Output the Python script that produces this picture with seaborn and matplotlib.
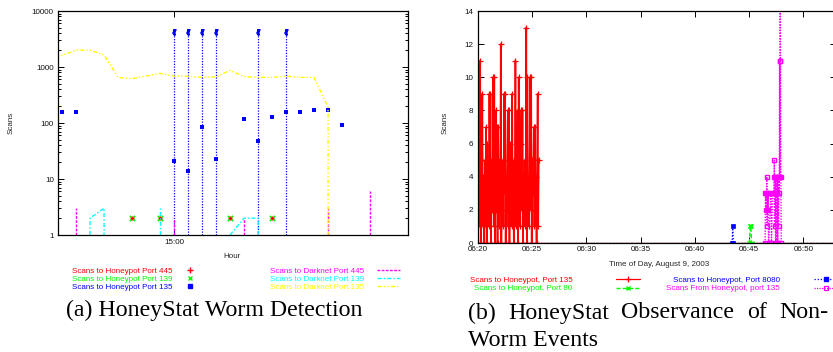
import matplotlib
matplotlib.use('Agg')
import matplotlib.pyplot as plt
from matplotlib.lines import Line2D
from matplotlib.ticker import LogLocator, NullLocator
import numpy as np
import seaborn as sns

# ---------------- panel (a): HoneyStat worm detection ----------------
# x is the sample slot relative to the 15:00 tick
hp135_slots = [-8, -7, 0, 1, 2, 3, 5, 6, 7, 8, 9, 10, 11, 12]
hp135_scans = [157, 157, 21, 14, 86, 23, 116, 48, 130, 157, 157, 173, 168, 91]

hp_low_slots = [-3, -1, 4, 7]          # port 445 and port 139 coincide here
hp445_scans = [2, 2, 2, 2]
hp139_scans = [2, 2, 2, 2]

dn135_slots = [-8.5, -7, -6, -5, -4, -3, -2, -1, 0, 1, 2, 3, 4, 5, 6, 7, 8, 9, 10, 11, 11]
dn135_scans = [1450, 2000, 2000, 1640, 650, 620, 690, 770, 686, 686, 653, 665, 870,
               670, 653, 653, 686, 653, 653, 190, 1]

dn445_slots = [-7, 0, 5, 11, 14]
dn445_scans = [3, 2, 2, 3, 6]

dn139_slots = [-6, -6, -5, -5, -1, -1, 4, 5, 6, 6]
dn139_scans = [1, 2, 3, 1, 1, 3, 1, 2, 2, 1]
dn139_piece = [0, 0, 0, 0, 1, 1, 2, 2, 2, 2]

alert_slots = [0, 1, 2, 3, 6, 8]
alert_level = 4300

# ---------------- panel (b): non-worm events ----------------
# seconds after 06:20:00
p135_t = np.arange(6, 337, 3)
p135_scans = [9, 1, 11, 0, 3, 5, 9, 1, 4, 0, 2, 5, 1, 7, 0, 6, 2, 4, 1, 9,
              3, 9, 0, 5, 2, 4, 10, 1, 10, 0, 3, 8, 2, 7, 0, 7, 4, 1, 5, 2,
              12, 0, 4, 2, 5, 1, 9, 3, 9, 0, 4, 2, 5, 8, 1, 8, 0, 6, 3, 5,
              1, 9, 2, 4, 0, 5, 3, 11, 1, 4, 2, 8, 0, 10, 3, 5, 1, 6, 8, 2,
              8, 0, 4, 2, 5, 1, 4, 13, 0, 10, 3, 4, 1, 4, 10, 2, 10, 0, 5, 3,
              4, 7, 1, 7, 2, 4, 0, 5, 9, 1, 5]

p8080_t = [1405, 1409, 1413]
p8080_scans = [0, 1, 0]

p80_t = [1501, 1505, 1507, 1509, 1513]
p80_scans = [0, 1, 1, 1, 0]

out135_t = [1588, 1590, 1592, 1594, 1596, 1597, 1599, 1601, 1603, 1605, 1607, 1621, 1623,
            1630, 1636, 1638, 1639, 1640, 1642, 1644, 1646, 1648, 1650, 1652, 1654, 1656,
            1658, 1660, 1662, 1664, 1666, 1668, 1670, 1671, 1673, 1675, 1677]
out135_scans = [0, 3, 2, 3, 2, 4, 1, 3, 2, 3, 0, 3, 0,
                3, 3, 4, 5, 1, 4, 3, 0, 4, 3, 0, 4, 3,
                0, 4, 1, 4, 3, 11, 4, 16, 11, 4, 0]

day_span = [0, 1980]
time_ticks = [0, 300, 600, 900, 1200, 1500, 1800]
time_labels = ['06:20', '06:25', '06:30', '06:35', '06:40', '06:45', '06:50']

RED, GREEN, BLUE = '#ff0000', '#00ff00', '#0000ff'
MAG, CYAN, YEL = '#ff00ff', '#00ffff', '#ffff00'
FS = 5.8

sns.set_theme(style='white')
plt.rcParams['font.family'] = ['Liberation Sans', 'DejaVu Sans']
plt.rcParams['axes.edgecolor'] = 'black'
plt.rcParams['axes.linewidth'] = 0.9

W, H = 833, 352
fig = plt.figure(figsize=(W / 100, H / 100), dpi=100)


def px_axes(left, top, right, bottom):
    return fig.add_axes([left / W, 1 - bottom / H, (right - left) / W, (bottom - top) / H])


def style_ticks(ax):
    ax.tick_params(which='both', direction='in', top=True, right=True, bottom=True, left=True,
                   labelsize=FS, labelcolor='#111111', color='black', width=0.7)
    ax.tick_params(which='major', length=4, pad=3)
    ax.tick_params(which='minor', length=2)


# ---------------- panel (a) ----------------
ax1 = px_axes(58, 11, 408, 235)
ax1.set_yscale('log')

ax1.vlines(alert_slots, 1, alert_level, colors=BLUE, linestyles=(0, (1, 1.2)), lw=0.9)
ax1.plot(alert_slots, [alert_level] * len(alert_slots), ls='none', marker=r'$\xi$',
         ms=4, color=BLUE)

ax1.vlines(dn445_slots, 1, dn445_scans, colors=MAG, linestyles=(0, (2, 1)), lw=1.0)
sns.lineplot(x=dn139_slots, y=dn139_scans, units=dn139_piece, estimator=None, sort=False,
             color=CYAN, lw=1.0, dashes=False, linestyle=(0, (3, 1.5, 1, 1.5)), ax=ax1)
sns.lineplot(x=dn135_slots, y=dn135_scans, estimator=None, sort=False,
             color=YEL, lw=1.0, linestyle=(0, (3, 1.5, 1, 1.5, 1, 1.5)), ax=ax1)

sns.scatterplot(x=hp_low_slots, y=hp139_scans, marker='x', color=GREEN, s=14,
                linewidth=1.3, ax=ax1)
sns.scatterplot(x=hp_low_slots, y=hp445_scans, marker='+', color=RED, s=10,
                linewidth=1.0, ax=ax1)
sns.scatterplot(x=hp135_slots, y=hp135_scans, marker='s', color=BLUE, s=11,
                linewidth=0, ax=ax1)

ax1.set_xlim(-8.29, 16.71)
ax1.set_ylim(1, 10000)
ax1.set_xticks([0])
ax1.set_xticklabels(['15:00'])
ax1.xaxis.set_minor_locator(NullLocator())
ax1.set_yticks([1, 10, 100, 1000, 10000])
ax1.set_yticklabels(['1', '10', '100', '1000', '10000'])
ax1.yaxis.set_minor_locator(LogLocator(base=10, subs=np.arange(2, 10)))
style_ticks(ax1)
ax1.set_xlabel('Hour', fontsize=FS)
ax1.set_ylabel('Scans', fontsize=FS)
ax1.xaxis.set_label_coords(0.497, -0.08)
ax1.yaxis.set_label_coords(-0.123, 0.5)

leg_a1 = [Line2D([], [], ls='none', marker='+', color=RED, ms=4, mew=1.0),
          Line2D([], [], ls='none', marker='x', color=GREEN, ms=3.5, mew=1.0),
          Line2D([], [], ls='none', marker='s', color=BLUE, ms=2.8)]
lab_a1 = ['Scans to Honeypot Port 445', 'Scans to Honeypot Port 139',
          'Scans to Honeypot Port 135']
leg_a2 = [Line2D([], [], color=MAG, lw=1.0, ls=(0, (2, 1))),
          Line2D([], [], color=CYAN, lw=1.0, ls=(0, (3, 1.5, 1, 1.5))),
          Line2D([], [], color=YEL, lw=1.0, ls=(0, (3, 1.5, 1, 1.5, 1, 1.5)))]
lab_a2 = ['Scans to Darknet Port 445', 'Scans to Darknet Port 139',
          'Scans to Darknet Port 135']

# ---------------- panel (b) ----------------
ax2 = px_axes(478, 11, 836, 243)

for col, dash in [(RED, '-'), (GREEN, (0, (3, 1.5))), (BLUE, (0, (1, 1.5))), (MAG, (0, (1, 1)))]:
    ax2.plot(day_span, [0, 0], color=col, lw=0.9, ls=dash)

sns.lineplot(x=p135_t, y=p135_scans, estimator=None, sort=False, color=RED, lw=1.2,
             marker='+', markersize=4, markeredgewidth=0.9, markeredgecolor=RED, ax=ax2)
sns.lineplot(x=p8080_t, y=p8080_scans, estimator=None, sort=False, color=BLUE, lw=0.9,
             linestyle=(0, (1, 1.5)), marker='s', markersize=2.5, markeredgewidth=0.5,
             markeredgecolor=BLUE, ax=ax2)
sns.lineplot(x=p80_t, y=p80_scans, estimator=None, sort=False, color=GREEN, lw=1.0,
             linestyle=(0, (3, 1.5)), marker='x', markersize=3.5, markeredgewidth=1.0,
             markeredgecolor=GREEN, ax=ax2)
sns.lineplot(x=out135_t, y=out135_scans, estimator=None, sort=False, color=MAG, lw=1.0,
             linestyle=(0, (1, 1)), marker='s', markersize=3, markeredgewidth=1.0,
             markeredgecolor=MAG, markerfacecolor='none', ax=ax2)

ax2.set_xlim(day_span)
ax2.set_ylim(0, 14)
ax2.set_xticks(time_ticks)
ax2.set_xticklabels(time_labels)
ax2.set_yticks(range(0, 15, 2))
style_ticks(ax2)
ax2.tick_params(axis='x', pad=2.5)
ax2.tick_params(axis='y', pad=3.5)
ax2.set_xlabel('Time of Day, August 9, 2003', fontsize=FS)
ax2.set_ylabel('Scans', fontsize=FS)
ax2.xaxis.set_label_coords(0.506, -0.077)
ax2.yaxis.set_label_coords(-0.081, 0.517)

leg_b1 = [Line2D([], [], color=RED, lw=0.9, marker='+', ms=4, mew=0.9),
          Line2D([], [], color=GREEN, lw=1.0, ls=(0, (3, 1.5)), marker='x', ms=3.5, mew=1.0)]
lab_b1 = ['Scans to Honeypot, Port 135', 'Scans to Honeypot, Port 80']
leg_b2 = [Line2D([], [], color=BLUE, lw=0.9, ls=(0, (1, 1.5)), marker='s', ms=2.5),
          Line2D([], [], color=MAG, lw=0.9, ls=(0, (1, 1)), marker='s', ms=3, mfc='none', mew=0.9)]
lab_b2 = ['Scans to Honeypot, Port 8080', 'Scans From Honeypot, port 135']

for ax in (ax1, ax2):
    if ax.get_legend() is not None:
        ax.get_legend().remove()


def add_legend(handles, labels, right, top, pad, hlen):
    leg = fig.legend(handles, labels, loc='upper right', bbox_to_anchor=(right / W, 1 - top / H),
                     frameon=False, fontsize=FS, markerfirst=False, labelcolor='linecolor',
                     handlelength=hlen, handletextpad=pad, labelspacing=0.08, borderpad=0,
                     borderaxespad=0, numpoints=1)
    return leg


add_legend(leg_a1, lab_a1, 202, 267, 0.7, 2.9)
add_legend(leg_a2, lab_a2, 400, 267, 1.6, 2.9)
add_legend(leg_b1, lab_b1, 640, 276.5, 5.4, 3.0)
add_legend(leg_b2, lab_b2, 838, 276.5, 4.2, 3.0)

# ---------------- captions ----------------
serif = ['Liberation Serif', 'DejaVu Serif']
fig.text(214.5 / W, 1 - 310 / H, '(a) HoneyStat Worm Detection', ha='center', va='center',
         family=serif, fontsize=17.2, color='black')

words = ['(b)', 'HoneyStat', 'Observance', 'of', 'Non-']
word_texts = [fig.text(0, 1 - 313 / H, w, ha='left', va='center', family=serif,
                       fontsize=17.2, color='black') for w in words]
fig.text(468 / W, 1 - 340 / H, 'Worm Events', ha='left', va='center', family=serif,
         fontsize=17.2, color='black')
fig.canvas.draw()
renderer = fig.canvas.get_renderer()
widths = [t.get_window_extent(renderer).width for t in word_texts]
gap = (828 - 468 - sum(widths)) / (len(words) - 1)
xpos = 468
for t, w in zip(word_texts, widths):
    t.set_x(xpos / W)
    xpos += w + gap

fig.savefig('out.png', dpi=100)
